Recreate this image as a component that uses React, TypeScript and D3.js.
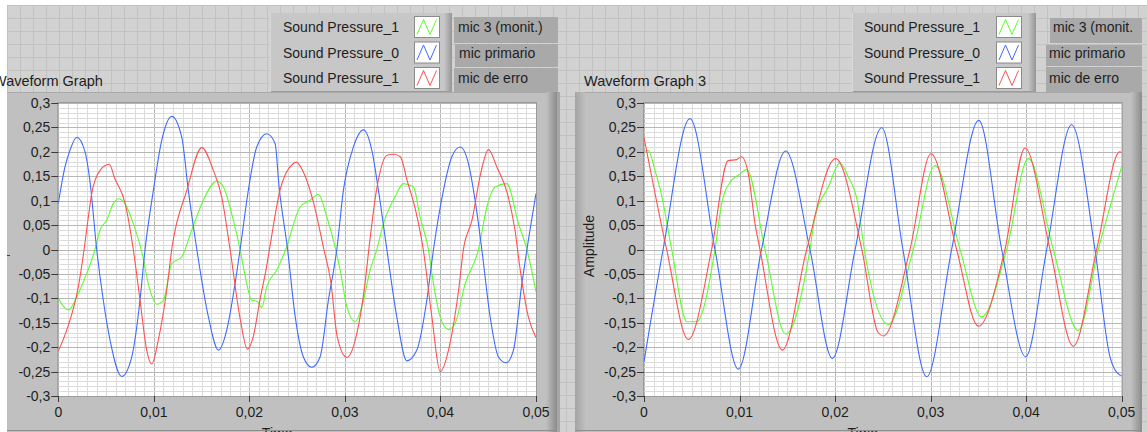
import { useRef, useEffect } from 'react';
import * as d3 from 'd3';

type Pt = [number, number];

// axis ticks
const timeTicks = [0, 0.01, 0.02, 0.03, 0.04, 0.05];
const timeTickLabels = ['0', '0,01', '0,02', '0,03', '0,04', '0,05'];
const ampTicks = [0.3, 0.25, 0.2, 0.15, 0.1, 0.05, 0, -0.05, -0.1, -0.15, -0.2, -0.25, -0.3];
const ampTickLabels = ['0,3', '0,25', '0,2', '0,15', '0,1', '0,05', '0', '-0,05', '-0,1', '-0,15', '-0,2', '-0,25', '-0,3'];

// legend
const plotNames = ['Sound Pressure_1', 'Sound Pressure_0', 'Sound Pressure_1'];
const plotLabelsLeft = ['mic 3 (monit.)', 'mic primario', 'mic de erro'];
const plotLabelsRight = ['mic 3 (monit.', 'mic primario', 'mic de erro'];
const plotColors = ['#5cff2c', '#3d6bff', '#ff5050'];

// Waveform Graph (time s, amplitude)
const g1Mic3: Pt[] = [
    [0, -0.1], [0.00105, -0.124], [0.0021, -0.09], [0.00297, -0.049], [0.00384, 0], [0.00437, 0.04],
    [0.00507, 0.06], [0.00576, 0.094], [0.00628, 0.104], [0.00698, 0.094], [0.00785, 0.053], [0.0088, -0.01],
    [0.00942, -0.07], [0.0103, -0.112], [0.011, -0.104], [0.01187, -0.029], [0.01292, -0.015], [0.01397, 0.04],
    [0.01518, 0.101], [0.01658, 0.14], [0.01728, 0.128], [0.01832, 0.06], [0.01903, 0], [0.01972, -0.07],
    [0.02025, -0.104], [0.0208, -0.106], [0.0213, -0.119], [0.02182, -0.076], [0.02287, -0.042], [0.0238, 0],
    [0.02531, 0.087], [0.02636, 0.101], [0.02723, 0.113], [0.0281, 0.067], [0.02897, 0.005], [0.0295, -0.042],
    [0.0302, -0.117], [0.03107, -0.148], [0.03177, -0.117], [0.03264, -0.042], [0.03334, 0], [0.03403, 0.053],
    [0.03525, 0.108], [0.03613, 0.135], [0.03717, 0.128], [0.03787, 0.067], [0.03874, 0], [0.03927, -0.07],
    [0.03997, -0.138], [0.04084, -0.164], [0.04154, -0.151], [0.04259, -0.07], [0.04398, 0], [0.04486, 0.087],
    [0.04573, 0.128], [0.04695, 0.135], [0.04817, 0.053], [0.04905, 0], [0.05, -0.087]
];
const g1Primario: Pt[] = [
    [0, 0.094], [0.0007, 0.169], [0.00122, 0.203], [0.00193, 0.23], [0.0028, 0.2], [0.0033, 0.142],
    [0.00402, 0], [0.00471, -0.104], [0.00541, -0.185], [0.00664, -0.26], [0.00769, -0.22], [0.00855, -0.104],
    [0.00908, 0], [0.00995, 0.121], [0.01083, 0.224], [0.01187, 0.2727], [0.01292, 0.23], [0.01361, 0.121],
    [0.0145, 0], [0.01571, -0.138], [0.01676, -0.206], [0.01763, -0.165], [0.0185, -0.07], [0.01903, 0],
    [0.01989, 0.121], [0.02077, 0.21], [0.02182, 0.237], [0.02269, 0.217], [0.0231, 0.13], [0.024, 0],
    [0.0248, -0.138], [0.02565, -0.22], [0.02653, -0.241], [0.0274, -0.22], [0.02827, -0.104], [0.02915, 0],
    [0.02984, 0.121], [0.03089, 0.21], [0.03194, 0.245], [0.03282, 0.203], [0.03351, 0.121], [0.03439, 0],
    [0.03543, -0.138], [0.03648, -0.228], [0.03753, -0.206], [0.03857, -0.104], [0.03927, 0], [0.04031, 0.121],
    [0.04119, 0.19], [0.04206, 0.21], [0.04293, 0.176], [0.04363, 0.1], [0.04433, 0], [0.0452, -0.138],
    [0.04607, -0.22], [0.04688, -0.232], [0.04764, -0.206], [0.04852, -0.07], [0.04905, 0], [0.05, 0.1145]
];
const g1Erro: Pt[] = [
    [0, -0.208], [0.00088, -0.165], [0.0021, -0.076], [0.0027, 0], [0.0031, 0.06], [0.0035, 0.115],
    [0.00437, 0.162], [0.00534, 0.1745], [0.0059, 0.146], [0.007, 0.094], [0.00785, 0], [0.00855, -0.103],
    [0.00925, -0.206], [0.00978, -0.2346], [0.01047, -0.185], [0.01135, -0.083], [0.01187, 0], [0.01345, 0.121],
    [0.01502, 0.2086], [0.01623, 0.162], [0.0171, 0.108], [0.01798, 0], [0.019, -0.138], [0.0198, -0.204],
    [0.0204, -0.179], [0.0211, -0.104], [0.0218, -0.035], [0.0221, 0], [0.0232, 0.121], [0.0246, 0.176],
    [0.0249, 0.179], [0.0258, 0.152], [0.0267, 0.097], [0.0278, 0], [0.0285, -0.063], [0.0292, -0.179],
    [0.0302, -0.221], [0.03125, -0.172], [0.0321, -0.07], [0.0325, 0], [0.0333, 0.121], [0.0344, 0.193],
    [0.0351, 0.195], [0.0358, 0.19], [0.0365, 0.142], [0.0374, 0.08], [0.0382, 0], [0.0391, -0.138],
    [0.03997, -0.25], [0.041, -0.192], [0.0419, -0.083], [0.0424, 0], [0.0433, 0.06], [0.0442, 0.155],
    [0.04503, 0.2045], [0.0459, 0.169], [0.047, 0.115], [0.0478, 0.04], [0.0483, -0.035], [0.0492, -0.138],
    [0.05, -0.18]
];

// Waveform Graph 3
const g3Mic3: Pt[] = [
    [0, 0.2], [0.00045, 0.203], [0.00115, 0.162], [0.0018, 0.115], [0.0029, 0], [0.0045, -0.148],
    [0.0055, -0.148], [0.00743, 0], [0.00813, 0.094], [0.00918, 0.142], [0.00987, 0.152], [0.01075, 0.1636],
    [0.01267, 0], [0.01483, -0.173], [0.01737, 0], [0.0179, 0.067], [0.0193, 0.128], [0.0205, 0.177],
    [0.0214, 0.148], [0.02232, 0.1], [0.02306, 0], [0.02557, -0.153], [0.02819, 0], [0.03046, 0.172],
    [0.03308, 0], [0.03534, -0.138], [0.03796, 0], [0.04023, 0.186], [0.04284, 0], [0.04546, -0.166],
    [0.04755, 0], [0.05, 0.17]
];
const g3Primario: Pt[] = [
    [0, -0.23], [0.002, 0], [0.00481, 0.268], [0.00743, 0], [0.00987, -0.245], [0.0123, 0],
    [0.01483, 0.2016], [0.01737, 0], [0.01971, -0.223], [0.0221, 0], [0.02488, 0.2494], [0.0271, 0],
    [0.02959, -0.2605], [0.0322, 0], [0.03504, 0.2644], [0.03744, 0], [0.03995, -0.2196], [0.04215, 0],
    [0.04476, 0.2556], [0.0472, 0], [0.0488, -0.222], [0.0498, -0.257], [0.05, -0.258]
];
const g3Erro: Pt[] = [
    [0, 0.23], [0.00237, 0], [0.00464, -0.184], [0.00708, 0], [0.0088, 0.182], [0.0097, 0.184],
    [0.0102, 0.19], [0.01092, 0.155], [0.01162, 0.053], [0.01214, 0], [0.01448, -0.206], [0.01703, 0],
    [0.02006, 0.186], [0.0228, 0], [0.0245, -0.17], [0.02505, -0.177], [0.02784, 0], [0.03004, 0.196],
    [0.03272, 0], [0.035, -0.157], [0.03778, 0], [0.03988, 0.2078], [0.0425, 0], [0.04494, -0.198],
    [0.04738, 0], [0.0498, 0.2], [0.05, 0.198]
];

// panel layout for both graphs
const graphs = [
    {
        title: 'Waveform Graph', titleX: -7,
        panelX: 7, panelR: 557, plotX0: 58.3, plotX1: 536,
        showAmp: false, series: [g1Mic3, g1Primario, g1Erro],
        legX: 270, legW: 182, nameX: 283, swX: 414,
        labels: plotLabelsLeft, labelX: [458, 459, 458],
        labelBoxes: [[454, 17, 104, 26], [455, 44, 103, 23], [454, 68, 104, 24]]
    },
    {
        title: 'Waveform Graph 3', titleX: 584,
        panelX: 575, panelR: 1142, plotX0: 644, plotX1: 1121.7,
        showAmp: true, series: [g3Mic3, g3Primario, g3Erro],
        legX: 852, legW: 184, nameX: 864, swX: 996,
        labels: plotLabelsRight, labelX: [1053, 1049, 1049],
        labelBoxes: [[1050, 18, 92, 25], [1046, 45, 96, 21], [1046, 67, 96, 25]]
    }
];

const rowCenters = [27, 52.5, 78];

export default function App() {
    const svgRef = useRef<SVGSVGElement>(null);

    useEffect(() => {
        document.body.style.margin = '0';
        const width = 1147;
        const height = 432;
        const font = '"Liberation Sans", Arial, sans-serif';
        const plotTop = 103;
        const plotBottom = 396;

        const svg = d3.select(svgRef.current)
            .attr('width', width)
            .attr('height', height)
            .html('');

        const defs = svg.append('defs');
        const hGrad = (id: string, from: string, to: string) => {
            const g = defs.append('linearGradient').attr('id', id)
                .attr('x1', '0%').attr('x2', '100%').attr('y1', '0%').attr('y2', '0%');
            g.append('stop').attr('offset', '0%').attr('stop-color', from);
            g.append('stop').attr('offset', '100%').attr('stop-color', to);
        };
        hGrad('shadeR', '#c0c0c0', '#8c8c8c');
        hGrad('shadeL', '#a4a4a4', '#bebebe');
        hGrad('legShade', '#c8c8c8', '#959595');

        // front panel background with grid
        svg.append('rect').attr('width', width).attr('height', height).attr('fill', '#d2d2d2');
        const bg = svg.append('g').attr('stroke', '#c2c2c2').attr('stroke-width', 1);
        d3.range(7, width, 13).forEach(gx => {
            bg.append('line').attr('x1', gx + 0.5).attr('x2', gx + 0.5).attr('y1', 0).attr('y2', height);
        });
        d3.range(5, height, 13).forEach(gy => {
            bg.append('line').attr('x1', 0).attr('x2', width).attr('y1', gy + 0.5).attr('y2', gy + 0.5);
        });
        svg.append('rect').attr('width', width).attr('height', 5).attr('fill', '#fff');
        svg.append('rect').attr('width', 7).attr('height', height).attr('fill', '#fff');

        graphs.forEach((g, gi) => {
            const x = d3.scaleLinear().domain([0, 0.05]).range([g.plotX0, g.plotX1]);
            const y = d3.scaleLinear().domain([-0.3, 0.3]).range([plotBottom, plotTop]);
            const root = svg.append('g');

            // graph frame
            root.append('rect')
                .attr('x', g.panelX).attr('y', 92)
                .attr('width', g.panelR - g.panelX).attr('height', height - 92)
                .attr('fill', '#c0c0c0');
            root.append('line')
                .attr('x1', g.panelX).attr('x2', g.panelR).attr('y1', 92.5).attr('y2', 92.5)
                .attr('stroke', '#a9a9a9');
            root.append('rect')
                .attr('x', g.panelR - 11).attr('y', 92)
                .attr('width', 11).attr('height', height - 92)
                .attr('fill', 'url(#shadeR)');
            if (gi === 0) {
                root.append('rect')
                    .attr('x', g.panelR).attr('y', 92).attr('width', 3).attr('height', height - 92)
                    .attr('fill', '#a6a6a6');
            } else {
                root.append('rect')
                    .attr('x', g.panelX).attr('y', 92).attr('width', 10).attr('height', height - 92)
                    .attr('fill', 'url(#shadeL)');
            }

            // plot area
            root.append('rect')
                .attr('x', g.plotX0).attr('y', plotTop)
                .attr('width', g.plotX1 - g.plotX0).attr('height', plotBottom - plotTop)
                .attr('fill', '#fff');

            const grid = root.append('g');
            d3.range(0, 51).map(i => i * 0.001).forEach((t, i) => {
                grid.append('line')
                    .attr('x1', Math.round(x(t)) + 0.5).attr('x2', Math.round(x(t)) + 0.5)
                    .attr('y1', plotTop).attr('y2', plotBottom)
                    .attr('stroke', i % 10 === 0 ? '#b6b6b6' : '#dcdcdc');
            });
            d3.range(-30, 31).map(i => i / 100).forEach((v, i) => {
                grid.append('line')
                    .attr('x1', g.plotX0).attr('x2', g.plotX1)
                    .attr('y1', Math.round(y(v)) + 0.5).attr('y2', Math.round(y(v)) + 0.5)
                    .attr('stroke', i % 5 === 0 ? '#b6b6b6' : '#dcdcdc');
            });
            root.append('rect')
                .attr('x', g.plotX0 - 0.5).attr('y', plotTop - 0.5)
                .attr('width', g.plotX1 - g.plotX0 + 1).attr('height', plotBottom - plotTop + 1)
                .attr('fill', 'none').attr('stroke', '#9a9a9a');

            // waveforms
            const clipId = `plot-clip-${gi}`;
            defs.append('clipPath').attr('id', clipId).append('rect')
                .attr('x', g.plotX0).attr('y', plotTop)
                .attr('width', g.plotX1 - g.plotX0).attr('height', plotBottom - plotTop);
            const line = d3.line<Pt>()
                .x(d => x(d[0]))
                .y(d => y(d[1]))
                .curve(d3.curveMonotoneX);
            const plots = root.append('g').attr('clip-path', `url(#${clipId})`);
            g.series.forEach((s, si) => {
                plots.append('path')
                    .attr('d', line(s))
                    .attr('fill', 'none')
                    .attr('stroke', plotColors[si])
                    .attr('stroke-width', 1.1);
            });

            // amplitude axis
            const yAxis = root.append('g').attr('font-family', font).attr('font-size', 14).attr('fill', '#1e1e1e');
            ampTicks.forEach((v, i) => {
                yAxis.append('line')
                    .attr('x1', g.plotX0 - 7).attr('x2', g.plotX0)
                    .attr('y1', Math.round(y(v)) + 0.5).attr('y2', Math.round(y(v)) + 0.5)
                    .attr('stroke', '#3a3a3a');
                yAxis.append('text')
                    .attr('x', g.plotX0 - 8)
                    .attr('y', y(v))
                    .attr('text-anchor', 'end')
                    .attr('dominant-baseline', 'central')
                    .text(ampTickLabels[i]);
            });

            // time axis
            const xAxis = root.append('g').attr('font-family', font).attr('font-size', 14).attr('fill', '#1e1e1e');
            timeTicks.forEach((t, i) => {
                xAxis.append('line')
                    .attr('x1', Math.round(x(t)) + 0.5).attr('x2', Math.round(x(t)) + 0.5)
                    .attr('y1', plotBottom).attr('y2', plotBottom + 6)
                    .attr('stroke', '#3a3a3a');
                xAxis.append('text')
                    .attr('x', x(t))
                    .attr('y', 417)
                    .attr('text-anchor', 'middle')
                    .text(timeTickLabels[i]);
            });
            xAxis.append('text')
                .attr('x', (g.plotX0 + g.plotX1) / 2 - 20)
                .attr('y', 438)
                .attr('text-anchor', 'middle')
                .text('Time');
            root.append('line')
                .attr('x1', g.panelX).attr('x2', g.panelR).attr('y1', 430.5).attr('y2', 430.5)
                .attr('stroke', '#8e8e8e');

            if (g.showAmp) {
                root.append('text')
                    .attr('transform', `translate(${g.panelX + 14}, 246) rotate(-90)`)
                    .attr('text-anchor', 'middle')
                    .attr('dominant-baseline', 'central')
                    .attr('font-family', font).attr('font-size', 14).attr('fill', '#1e1e1e')
                    .text('Amplitude');
            } else {
                root.append('line')
                    .attr('x1', 7).attr('x2', 10).attr('y1', 255.5).attr('y2', 255.5)
                    .attr('stroke', '#33406a');
            }

            // graph title
            svg.append('text')
                .attr('x', g.titleX).attr('y', 86)
                .attr('font-family', font).attr('font-size', 14.5).attr('fill', '#1e1e1e')
                .text(g.title);

            // plot legend
            const leg = svg.append('g');
            leg.append('rect')
                .attr('x', g.legX).attr('y', 13).attr('width', g.legW).attr('height', 79)
                .attr('fill', '#c7c7c7');
            leg.append('rect')
                .attr('x', g.legX + g.legW - 8).attr('y', 13).attr('width', 8).attr('height', 79)
                .attr('fill', 'url(#legShade)');
            leg.append('line')
                .attr('x1', g.legX).attr('x2', g.legX + g.legW).attr('y1', 91.5).attr('y2', 91.5)
                .attr('stroke', '#9c9c9c');
            leg.append('line')
                .attr('x1', g.legX + 0.5).attr('x2', g.legX + 0.5).attr('y1', 13).attr('y2', 92)
                .attr('stroke', '#d8d8d8');

            g.labelBoxes.forEach(([bx, by, bw, bh]) => {
                leg.append('rect')
                    .attr('x', bx).attr('y', by).attr('width', bw).attr('height', bh)
                    .attr('fill', '#a9a9a9');
            });

            plotNames.forEach((name, i) => {
                const cy = rowCenters[i];
                leg.append('text')
                    .attr('x', g.nameX).attr('y', cy)
                    .attr('dominant-baseline', 'central')
                    .attr('font-family', font).attr('font-size', 14).attr('fill', '#1e1e1e')
                    .text(name);
                leg.append('rect')
                    .attr('x', g.swX + 0.5).attr('y', cy - 10.5)
                    .attr('width', 25).attr('height', 21)
                    .attr('fill', '#fff').attr('stroke', '#8a8a8a');
                const zig: Pt[] = [[3, 18], [9.5, 3], [16, 18], [22.5, 3]];
                leg.append('path')
                    .attr('d', d3.line<Pt>().x(d => g.swX + d[0]).y(d => cy - 10.5 + d[1])(zig))
                    .attr('fill', 'none')
                    .attr('stroke', plotColors[i]);
                leg.append('text')
                    .attr('x', g.labelX[i]).attr('y', cy)
                    .attr('dominant-baseline', 'central')
                    .attr('font-family', font).attr('font-size', 14).attr('fill', '#1e1e1e')
                    .text(g.labels[i]);
            });
        });
    }, []);

    return <svg ref={svgRef} style={{ display: 'block' }}></svg>;
}
